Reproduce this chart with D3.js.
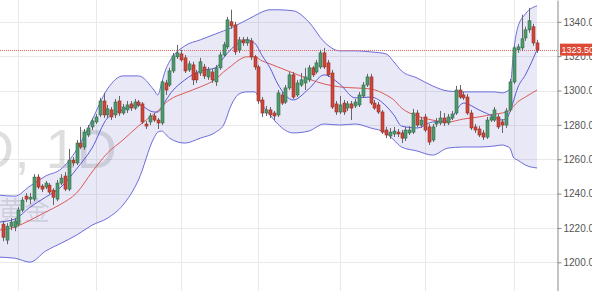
<!DOCTYPE html>
<html>
<head>
<meta charset="utf-8">
<script src="https://cdn.jsdelivr.net/npm/d3@7"></script>
<style>
  body { margin: 0; background: #fff; }
  svg { display: block; font-family: "Liberation Sans", Arial, sans-serif; }
</style>
</head>
<body>
<script>
var svgWidth = 592;
var svgHeight = 291;
var plotRight = 557;

// daily candles: [open, high, low, close]
var candles = [
  [1222.2,1224.0,1212.3,1214.6],[1212.9,1222.8,1210.5,1221.0],[1221.0,1225.7,1218.7,1223.4],[1220.5,1225.7,1218.1,1224.0],
  [1222.2,1232.1,1221.0,1230.4],[1230.4,1237.9,1229.2,1236.2],[1238.5,1240.3,1235.0,1236.8],[1236.8,1240.3,1233.9,1237.9],
  [1236.8,1251.3,1235.6,1249.6],[1249.6,1251.3,1242.6,1243.8],[1244.4,1245.5,1240.9,1242.6],[1243.8,1247.3,1242.6,1246.1],
  [1244.9,1246.1,1239.7,1240.9],[1242.0,1243.2,1233.3,1237.9],[1236.8,1247.9,1235.6,1246.1],[1246.1,1251.3,1244.9,1249.0],
  [1250.2,1252.5,1241.4,1242.6],[1242.6,1266.0,1241.4,1259.5],[1259.5,1261.3,1256.0,1257.8],[1257.8,1271.2,1256.6,1269.4],
  [1269.4,1278.8,1265.9,1267.1],[1267.1,1277.6,1265.4,1275.8],[1274.1,1279.9,1272.9,1278.2],[1278.8,1284.0,1277.0,1282.3],
  [1281.7,1286.3,1280.5,1284.6],[1285.8,1295.7,1284.6,1293.9],[1293.9,1298.6,1284.0,1285.8],[1285.8,1291.6,1284.0,1289.3],
  [1288.7,1290.4,1282.8,1284.6],[1285.8,1295.1,1284.0,1293.3],[1293.9,1296.8,1285.2,1286.9],[1286.9,1292.2,1285.8,1290.4],
  [1288.7,1293.9,1286.9,1291.6],[1292.2,1293.9,1288.1,1289.8],[1289.8,1295.1,1288.7,1293.3],[1293.3,1294.5,1290.4,1291.6],
  [1292.2,1293.3,1280.5,1281.7],[1280.5,1282.3,1277.6,1279.3],[1281.7,1286.9,1279.9,1285.2],[1285.2,1286.9,1281.7,1282.8],
  [1282.8,1284.0,1277.6,1281.1],[1281.1,1306.2,1279.9,1305.0],[1304.4,1306.2,1297.4,1300.3],[1303.2,1313.2,1302.1,1311.4],
  [1311.4,1321.9,1310.2,1320.2],[1319.6,1326.6,1318.4,1321.9],[1321.3,1323.7,1316.7,1317.8],[1319.0,1320.7,1310.2,1311.4],
  [1312.0,1317.2,1310.8,1315.5],[1314.9,1316.7,1303.2,1306.2],[1310.2,1312.0,1304.4,1306.2],[1310.2,1319.0,1308.5,1316.7],
  [1313.7,1315.5,1306.7,1308.5],[1307.9,1313.7,1306.2,1312.0],[1310.8,1312.6,1304.4,1306.2],[1305.0,1314.9,1302.7,1313.2],
  [1313.2,1322.5,1312.0,1320.7],[1320.7,1328.3,1319.6,1326.6],[1325.4,1342.9,1324.2,1341.1],[1340.0,1347.0,1335.9,1337.6],
  [1338.2,1340.0,1320.7,1322.5],[1323.7,1331.2,1321.9,1329.5],[1329.5,1331.2,1326.0,1327.7],[1327.7,1331.2,1326.0,1329.5],
  [1328.9,1330.6,1317.8,1319.6],[1319.6,1320.7,1312.0,1313.7],[1313.7,1314.9,1292.2,1293.9],[1294.5,1296.2,1284.6,1286.9],
  [1286.9,1291.0,1285.2,1288.7],[1288.7,1290.4,1284.0,1285.8],[1286.9,1288.1,1282.8,1285.2],[1285.8,1300.3,1284.6,1298.6],
  [1297.4,1299.2,1291.6,1292.7],[1293.3,1303.2,1292.2,1301.5],[1301.5,1310.8,1300.3,1309.1],[1309.1,1310.8,1295.1,1296.2],
  [1297.4,1306.2,1296.2,1304.4],[1303.2,1310.2,1302.1,1306.2],[1304.4,1313.2,1300.3,1307.9],[1306.2,1314.9,1305.0,1313.2],
  [1313.2,1314.3,1307.9,1309.1],[1310.8,1317.8,1309.7,1316.1],[1313.7,1323.7,1312.6,1321.9],[1321.9,1324.8,1312.6,1313.7],
  [1316.1,1317.8,1307.9,1309.1],[1310.2,1312.0,1289.3,1290.4],[1292.2,1293.9,1285.8,1287.5],[1287.5,1296.8,1286.3,1291.6],
  [1292.7,1294.5,1285.8,1287.5],[1289.8,1293.9,1288.1,1292.2],[1292.2,1293.9,1282.8,1289.8],[1291.0,1295.1,1289.8,1293.3],
  [1291.6,1299.2,1290.4,1297.4],[1296.8,1305.0,1295.7,1303.2],[1303.2,1309.7,1302.1,1307.9],[1307.9,1309.7,1291.6,1292.7],
  [1292.7,1294.5,1288.7,1289.8],[1291.6,1293.3,1286.3,1287.5],[1287.5,1288.7,1274.7,1275.8],[1277.0,1278.8,1272.3,1274.1],
  [1273.5,1278.2,1271.8,1275.8],[1274.7,1278.8,1272.9,1276.4],[1275.8,1277.6,1272.9,1274.7],[1275.3,1277.0,1269.4,1272.3],
  [1272.3,1278.8,1270.6,1277.0],[1275.3,1279.3,1274.1,1277.0],[1275.8,1289.3,1274.7,1286.9],[1286.9,1288.7,1278.8,1279.9],
  [1279.9,1284.6,1278.2,1282.8],[1284.6,1286.3,1275.8,1277.0],[1278.8,1280.5,1268.3,1270.0],[1271.2,1280.5,1270.0,1278.8],
  [1280.5,1284.0,1278.8,1281.7],[1281.1,1288.1,1279.9,1284.0],[1284.0,1286.9,1279.3,1281.1],[1281.1,1286.3,1279.9,1284.6],
  [1284.0,1288.1,1282.8,1286.3],[1286.9,1302.7,1285.8,1300.3],[1300.3,1303.2,1295.1,1296.2],[1297.4,1299.2,1294.5,1295.7],
  [1296.2,1298.0,1285.8,1286.9],[1286.9,1288.7,1277.0,1278.2],[1278.8,1280.5,1275.3,1277.0],[1277.6,1279.3,1272.9,1274.1],
  [1275.3,1277.0,1271.2,1272.9],[1272.9,1284.6,1271.8,1282.8],[1282.8,1286.3,1281.7,1284.6],[1282.8,1290.4,1281.7,1288.7],
  [1284.6,1286.3,1277.6,1278.8],[1281.7,1283.4,1275.3,1279.9],[1279.9,1289.8,1278.2,1288.1],[1288.7,1306.7,1287.5,1305.0],
  [1305.0,1326.0,1303.8,1324.8],[1323.7,1327.1,1321.9,1325.4],[1324.8,1344.1,1323.1,1330.1],[1330.6,1337.1,1328.9,1335.3],
  [1335.3,1348.1,1333.6,1340.6],[1337.1,1338.8,1326.0,1327.7],[1327.7,1329.5,1321.9,1323.5]
];

// indicator readings, taken at these candle positions
var bandIndex = [-1,3,7,11,15,19,23,27,31,35,39,40,41,42,43,47,51,55,57,59,61,63,65,67,69,71,75,79,83,87,
  91,95,99,101,103,107,111,115,119,123,127,129,130,131,132,133,135,138];
var upperBand = [1239.1,1238.5,1244.4,1250.2,1254.3,1265.4,1282.8,1300.9,1308.5,1308.5,1300.3,1297.4,1304.4,1312.0,1316.7,
  1326.0,1329.5,1333.0,1334.7,1336.5,1338.8,1341.1,1343.5,1345.8,1347.0,1347.0,1346.4,1340.0,1328.3,1323.1,
  1323.1,1322.5,1321.3,1316.7,1311.4,1307.3,1302.7,1299.7,1299.2,1299.2,1299.2,1298.6,1299.2,1301.5,1323.7,
  1336.5,1344.6,1349.3];
var lowerBand = [1203.0,1202.4,1200.1,1206.5,1211.1,1215.8,1221.6,1225.7,1233.3,1247.9,1272.3,1275.8,1276.4,1274.7,1272.3,
  1269.4,1272.3,1275.8,1279.9,1291.6,1298.0,1299.2,1299.2,1291.6,1285.8,1280.5,1275.3,1276.4,1280.5,1279.9,
  1280.5,1278.2,1275.3,1271.2,1267.1,1264.8,1262.4,1266.5,1267.1,1267.1,1267.7,1268.3,1267.7,1266.5,1260.7,
  1259.5,1256.6,1254.9];
var middleBand = [1218.7,1220.5,1224.5,1229.2,1233.9,1240.3,1252.5,1263.6,1271.2,1279.3,1286.3,1288.1,1290.4,1292.7,1294.5,
  1298.6,1302.1,1306.7,1310.8,1314.3,1317.8,1319.6,1319.6,1317.2,1315.5,1313.7,1310.2,1306.7,1303.8,1302.1,
  1301.5,1300.9,1297.4,1294.5,1289.8,1285.2,1282.8,1281.7,1283.4,1284.6,1286.3,1286.9,1287.5,1288.7,1291.0,
  1293.3,1296.2,1300.3];
var fastLine = [1223.4,1225.1,1232.1,1237.9,1243.8,1254.3,1266.5,1284.0,1288.7,1291.6,1287.5,1287.5,1289.8,1293.9,1297.4,
  1306.2,1311.4,1313.2,1319.0,1324.2,1327.7,1329.5,1327.7,1320.2,1313.2,1303.8,1294.5,1300.9,1309.1,1303.8,
  1295.7,1296.2,1291.0,1285.8,1279.3,1278.2,1281.7,1282.3,1292.7,1288.7,1284.6,1282.8,1283.4,1287.5,1294.5,
  1301.5,1309.1,1323.7];

var priceTicks = [1200, 1220, 1240, 1260, 1280, 1300, 1320, 1340];
var monthStarts = [4, 24, 46, 66, 87, 109, 132];
var lastPrice = 1323.50;
var watermarkLines = ["XAU/USD, 1D", "现货黄金"];

var svg = d3.select("body").append("svg")
  .attr("width", svgWidth)
  .attr("height", svgHeight);

var x = d3.scaleLinear().domain([0, candles.length - 1]).range([3, 537]);
var y = d3.scaleLinear().domain([1183.29, 1352.69]).range([svgHeight, 0]);

svg.append("clipPath").attr("id", "plot")
  .append("rect").attr("x", 0).attr("y", 0).attr("width", plotRight).attr("height", svgHeight);

var plot = svg.append("g").attr("clip-path", "url(#plot)");

// grid
plot.selectAll(".hgrid").data(priceTicks).enter().append("line")
  .attr("x1", 0).attr("x2", plotRight)
  .attr("y1", d => Math.round(y(d)) + 0.5).attr("y2", d => Math.round(y(d)) + 0.5)
  .attr("stroke", "#e9e9e9");
plot.selectAll(".vgrid").data(monthStarts).enter().append("line")
  .attr("x1", d => Math.round(x(d)) + 0.5).attr("x2", d => Math.round(x(d)) + 0.5)
  .attr("y1", 0).attr("y2", svgHeight)
  .attr("stroke", "#e9e9e9");

// watermark
plot.append("text")
  .attr("x", 117).attr("y", 168)
  .attr("text-anchor", "end")
  .attr("font-size", 56)
  .attr("fill", "rgba(0,0,0,0.13)")
  .text(watermarkLines[0]);
plot.append("text")
  .attr("x", 50).attr("y", 220)
  .attr("text-anchor", "end")
  .attr("font-family", "Noto Sans CJK SC")
  .attr("font-size", 26)
  .attr("fill", "rgba(0,0,0,0.12)")
  .text(watermarkLines[1]);

var bandData = bandIndex.map((d, i) => ({i: d, up: upperBand[i], lo: lowerBand[i], mid: middleBand[i], fast: fastLine[i]}));

var area = d3.area()
  .x(d => x(d.i))
  .y0(d => y(d.lo))
  .y1(d => y(d.up))
  .curve(d3.curveMonotoneX);

plot.append("path").datum(bandData)
  .attr("d", area)
  .attr("fill", "rgba(110,110,200,0.16)");

function lineOf(key) {
  return d3.line().x(d => x(d.i)).y(d => y(d[key])).curve(d3.curveMonotoneX);
}

plot.append("path").datum(bandData).attr("d", lineOf("up"))
  .attr("fill", "none").attr("stroke", "#6c6cdc").attr("stroke-width", 1);
plot.append("path").datum(bandData).attr("d", lineOf("lo"))
  .attr("fill", "none").attr("stroke", "#6c6cdc").attr("stroke-width", 1);
plot.append("path").datum(bandData).attr("d", lineOf("mid"))
  .attr("fill", "none").attr("stroke", "#dd5a55").attr("stroke-width", 1);
plot.append("path").datum(bandData).attr("d", lineOf("fast"))
  .attr("fill", "none").attr("stroke", "#5b5bd8").attr("stroke-width", 1);

// last price line
plot.append("line")
  .attr("x1", 0).attr("x2", plotRight)
  .attr("y1", Math.round(y(lastPrice)) + 0.5).attr("y2", Math.round(y(lastPrice)) + 0.5)
  .attr("stroke", "#e06a60")
  .attr("stroke-dasharray", "1,1");

// candles
var candle = plot.selectAll(".candle").data(candles).enter().append("g");

candle.append("line")
  .attr("x1", (d, i) => Math.round(x(i)) + 0.5)
  .attr("x2", (d, i) => Math.round(x(i)) + 0.5)
  .attr("y1", d => y(d[1]))
  .attr("y2", d => y(d[2]))
  .attr("stroke", "#666")
  .attr("stroke-width", 1);

candle.append("rect")
  .attr("x", (d, i) => Math.round(x(i)) - 1)
  .attr("width", 3)
  .attr("y", d => y(Math.max(d[0], d[3])))
  .attr("height", d => Math.max(1, Math.abs(y(d[0]) - y(d[3]))))
  .attr("fill", d => d[3] >= d[0] ? "#4f9a6d" : "#cf463b")
  .attr("stroke", d => d[3] >= d[0] ? "#2f6b4a" : "#9a2c24")
  .attr("stroke-width", 0.6);

// price axis
var yAxis = d3.axisRight(y)
  .tickValues(priceTicks)
  .tickFormat(d3.format(".2f"))
  .tickSize(4)
  .tickSizeOuter(0)
  .tickPadding(2);

var axisG = svg.append("g")
  .attr("transform", `translate(${plotRight + 0.5},0)`)
  .call(yAxis);
axisG.select(".domain").attr("stroke", "#8a8a8a");
axisG.selectAll(".tick line").attr("stroke", "#8a8a8a");
axisG.selectAll(".tick text")
  .attr("fill", "#555")
  .attr("font-size", 10)
  .attr("font-family", "Liberation Sans, Arial, sans-serif");

// last price label
var labelY = y(lastPrice);
svg.append("rect")
  .attr("x", plotRight + 3).attr("y", labelY - 6.5)
  .attr("width", svgWidth - plotRight).attr("height", 12)
  .attr("fill", "#dc4a36");
svg.append("text")
  .attr("x", plotRight + 4.5).attr("y", labelY)
  .attr("dy", "0.35em")
  .attr("font-size", 9)
  .attr("fill", "#fff")
  .text(d3.format(".2f")(lastPrice));
</script>
</body>
</html>
